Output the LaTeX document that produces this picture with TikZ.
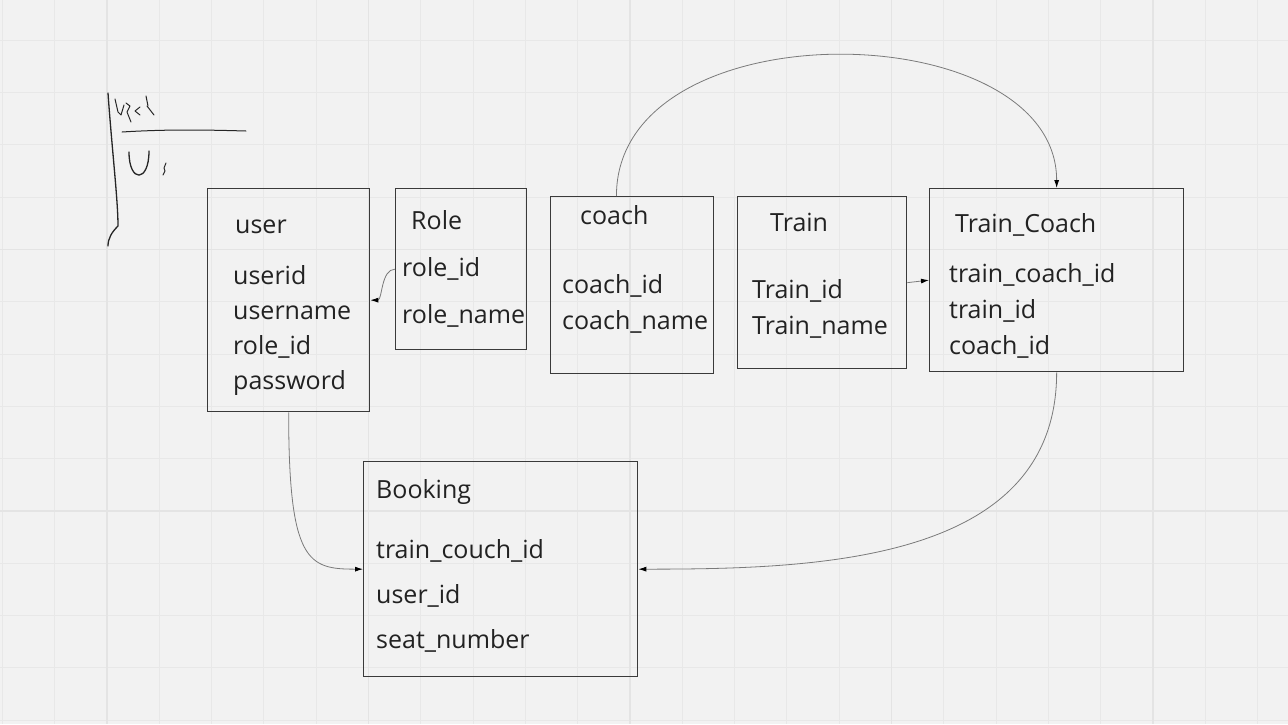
\documentclass[tikz,border=0pt]{standalone}
\usepackage{fontspec}
\setmainfont{Open Sans}
\usepackage{tikz}
\usetikzlibrary{arrows.meta}

\definecolor{paper}{HTML}{F2F2F2}
\definecolor{gridline}{HTML}{E8E8E8}
\definecolor{gridmajor}{HTML}{E4E4E4}
\definecolor{ink}{HTML}{222222}
\definecolor{boxline}{HTML}{3A3A3A}
\definecolor{wire}{HTML}{7A7A7A}

\begin{document}
\begin{tikzpicture}[x=1pt,y=-1pt,
      tbl/.style={draw=boxline,line width=1.3pt,anchor=north west,inner sep=0pt},
      field/.style={anchor=base west,inner sep=0pt,text=ink,font=\fontsize{25}{30}\selectfont},
      link/.style={draw=wire,line width=0.8pt,-{Latex[length=8pt,width=5pt,color=black]}},
      pen/.style={draw=black!85,line width=1.3pt,line cap=round,line join=round}]
    \useasboundingbox (0,0) rectangle (1288,724);
    \fill[paper] (0,0) rectangle (1288,724);
    % grid
    \foreach \i in {0,...,24} {
      \draw[gridline,line width=1pt] ({2.4+52.3*\i},0) -- ({2.4+52.3*\i},724);
    }
    \foreach \j in {-1,...,13} {
      \draw[gridline,line width=1pt] (0,{40.3+52.3*\j}) -- (1288,{40.3+52.3*\j});
    }
    \foreach \i in {2,7,12,17,22} {
      \draw[gridmajor,line width=1.2pt] ({2.4+52.3*\i},0) -- ({2.4+52.3*\i},724);
    }
    \foreach \j in {4,9} {
      \draw[gridmajor,line width=1.2pt] (0,{40.3+52.3*\j}) -- (1288,{40.3+52.3*\j});
    }

    % freehand note
    \draw[pen] (108,93) .. controls (112,150) and (118,200) .. (118,226)
      .. controls (112,232) and (108,238) .. (108,246);
    \draw[pen,line width=1pt] (122,132) .. controls (170,129) and (210,130) .. (246,131);
    \draw[pen,line width=1pt] (115,99) -- (118,112) -- (121,115) -- (124,105);
    \draw[pen,line width=1pt] (126,103) -- (130,106) -- (127,112) -- (131,122);
    \draw[pen,line width=1pt] (140,107) -- (135,111) -- (140,115);
    \draw[pen,line width=1pt] (146,96) -- (148,106);
    \draw[pen,line width=1pt] (147,106) -- (154,115);
    \draw[pen] (129,152) .. controls (129,183) and (149,183) .. (149,151);
    \draw[pen,line width=1pt] (166,163) -- (164,168) -- (165,171) -- (163,175);

    % tables
    \node[tbl,minimum width=162,minimum height=223] (user) at (207,188) {};
    \node[field] (userTitle) at (235,233) {user};
    \node[field] (userid) at (233,284) {userid};
    \node[field] (username) at (233,319) {username};
    \node[field] (userRole) at (233,354) {role\_id};
    \node[field] (password) at (233,389) {password};

    \node[tbl,minimum width=131,minimum height=161] (role) at (395,188) {};
    \node[field] (roleTitle) at (411,229) {Role};
    \node[field] (roleid) at (402,276) {role\_id};
    \node[field] (rolename) at (402,323) {role\_name};

    \node[tbl,minimum width=163,minimum height=177] (coach) at (550,196) {};
    \node[field] (coachTitle) at (580,224) {coach};
    \node[field] (coachid) at (562,293) {coach\_id};
    \node[field] (coachname) at (562,329) {coach\_name};

    \node[tbl,minimum width=169,minimum height=172] (train) at (737,196) {};
    \node[field] (trainTitle) at (770,231) {Train};
    \node[field] (trainid) at (752,298) {Train\_id};
    \node[field] (trainname) at (752,334) {Train\_name};

    \node[tbl,minimum width=254,minimum height=183] (tc) at (929,188) {};
    \node[field] (tcTitle) at (955,232) {Train\_Coach};
    \node[field] (tcid) at (949,282) {train\_coach\_id};
    \node[field] (tctrain) at (949,318) {train\_id};
    \node[field] (tccoach) at (949,354) {coach\_id};

    \node[tbl,minimum width=274,minimum height=215] (booking) at (363,461) {};
    \node[field] (bookingTitle) at (376,498) {Booking};
    \node[field] (bkcouch) at (376,558) {train\_couch\_id};
    \node[field] (bkuser) at (376,603) {user\_id};
    \node[field] (bkseat) at (376,648) {seat\_number};

    % relations
    \draw[link] (role.west) .. controls +(-14,0) and +(12,0) .. (user.east);
    \draw[link] (train.east) -- (tc.west);
    \draw[link] (coach.100) .. controls +(0,-190) and +(0,-175) .. (tc.north);
    \draw[link] (tc.south) .. controls +(0,190) and +(180,0) .. (booking.east);
    \draw[link] (user.south) .. controls +(0,150) and +(-55,0) .. (booking.west);
  \end{tikzpicture}
\end{document}
